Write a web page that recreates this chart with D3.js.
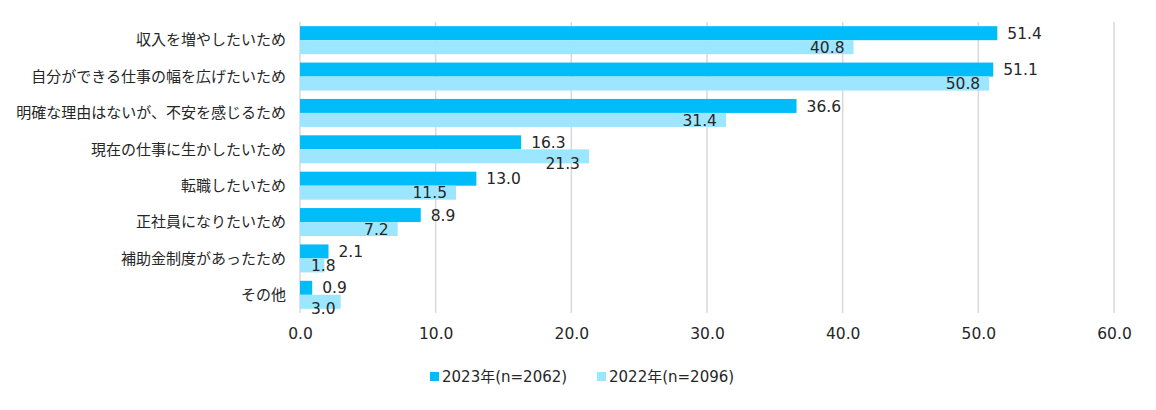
<!DOCTYPE html>
<html>
<head>
<meta charset="utf-8">
<script src="https://cdn.jsdelivr.net/npm/d3@7"></script>
<style>
  body { margin: 0; background: #fff; }
  text { font-family: "Noto Sans CJK JP", "Noto Sans", sans-serif; fill: #262626; }
  .num { font-family: "DejaVu Sans", "Noto Sans CJK JP", sans-serif; }
</style>
</head>
<body>
<div id="viz"></div>
<script>
// chart data
const categories = [
  "収入を増やしたいため",
  "自分ができる仕事の幅を広げたいため",
  "明確な理由はないが、不安を感じるため",
  "現在の仕事に生かしたいため",
  "転職したいため",
  "正社員になりたいため",
  "補助金制度があったため",
  "その他"
];
const values2023 = [51.4, 51.1, 36.6, 16.3, 13.0, 8.9, 2.1, 0.9];
const values2022 = [40.8, 50.8, 31.4, 21.3, 11.5, 7.2, 1.8, 3.0];
const seriesNames = ["2023年(n=2062)", "2022年(n=2096)"];
const xTicks = [0, 10, 20, 30, 40, 50, 60];

const colors = ["#00bcf8", "#9de6ff"];

// set the dimensions and margins of the graph
const W = 1156, H = 410;
const margin = {top: 22, right: 42, bottom: 97, left: 300},
    width = W - margin.left - margin.right,
    height = H - margin.top - margin.bottom;

const svg = d3.select("#viz")
  .append("svg")
    .attr("width", W)
    .attr("height", H)
  .append("g")
    .attr("transform", `translate(${margin.left},${margin.top})`);

const x = d3.scaleLinear().domain([0, 60]).range([0, width]);
const y = d3.scaleBand().domain(categories).range([0, height]).paddingInner(0.23).paddingOuter(0.115);
const sub = d3.scaleBand().domain([0, 1]).range([0, y.bandwidth()]);

// gridlines
svg.append("g")
  .selectAll("line")
  .data(xTicks)
  .join("line")
    .attr("x1", d => x(d)).attr("x2", d => x(d))
    .attr("y1", 0).attr("y2", height)
    .attr("stroke", "#d9d9d9")
    .attr("stroke-width", 1.5);

// x axis labels
const xAxis = svg.append("g")
  .attr("transform", `translate(0,${height})`)
  .call(d3.axisBottom(x).tickValues(xTicks).tickFormat(d3.format(".1f")).tickSize(0).tickPadding(15));
xAxis.select(".domain").remove();
xAxis.attr("font-family", null);
xAxis.selectAll("text")
  .attr("class", "num")
  .style("font-size", "15.5px")
  .attr("fill", "#262626");

// category labels
svg.append("g")
  .selectAll("text")
  .data(categories)
  .join("text")
    .attr("x", -14)
    .attr("y", d => y(d) + y.bandwidth() / 2)
    .attr("dy", "0.35em")
    .attr("text-anchor", "end")
    .style("font-size", "15px")
    .text(d => d);

const series = [values2023, values2022];
const labelBoxes = [];

series.forEach((vals, s) => {
  const g = svg.append("g");
  g.selectAll("rect")
    .data(vals)
    .join("rect")
      .attr("x", 0)
      .attr("y", (d, i) => y(categories[i]) + sub(s))
      .attr("width", d => x(d))
      .attr("height", sub.bandwidth())
      .attr("fill", colors[s]);

  const labels = g.selectAll("text")
    .data(vals)
    .join("text")
      .attr("class", "num")
      .attr("y", (d, i) => y(categories[i]) + sub(s) + sub.bandwidth() / 2)
      .attr("dy", "0.36em")
      .style("font-size", "15.5px")
      .text(d => d.toFixed(1));

  if (s === 0) {
    labels.attr("x", d => x(d) + 10).attr("text-anchor", "start")
      .each(function(d, i) {
        labelBoxes[i] = [x(d) + 10, x(d) + 10 + this.getComputedTextLength()];
      });
  } else {
    // inside end, nudged down when it runs into the 2023 label
    labels.attr("text-anchor", "end")
      .each(function(d, i) {
        const w = this.getComputedTextLength();
        const xe = Math.max(x(d) - 9, 11 + w);
        const overlap = Math.min(xe, labelBoxes[i][1]) - Math.max(xe - w, labelBoxes[i][0]);
        const shift = overlap > 0 ? Math.min(7, 2 + overlap * 0.5) : 0;
        d3.select(this).attr("x", xe)
          .attr("y", y(categories[i]) + sub(1) + sub.bandwidth() / 2 + shift);
      });
  }
});

// legend
const legend = svg.append("g")
  .attr("transform", `translate(0,${height + 64})`);
const legX = [130, 297];
seriesNames.forEach((name, i) => {
  legend.append("rect")
    .attr("x", legX[i]).attr("y", -5)
    .attr("width", 9).attr("height", 9)
    .attr("fill", colors[i]);
  legend.append("text")
    .attr("class", "num")
    .attr("x", legX[i] + 12).attr("y", 0)
    .attr("dy", "0.35em")
    .style("font-size", "15px")
    .text(name);
});
</script>
</body>
</html>
